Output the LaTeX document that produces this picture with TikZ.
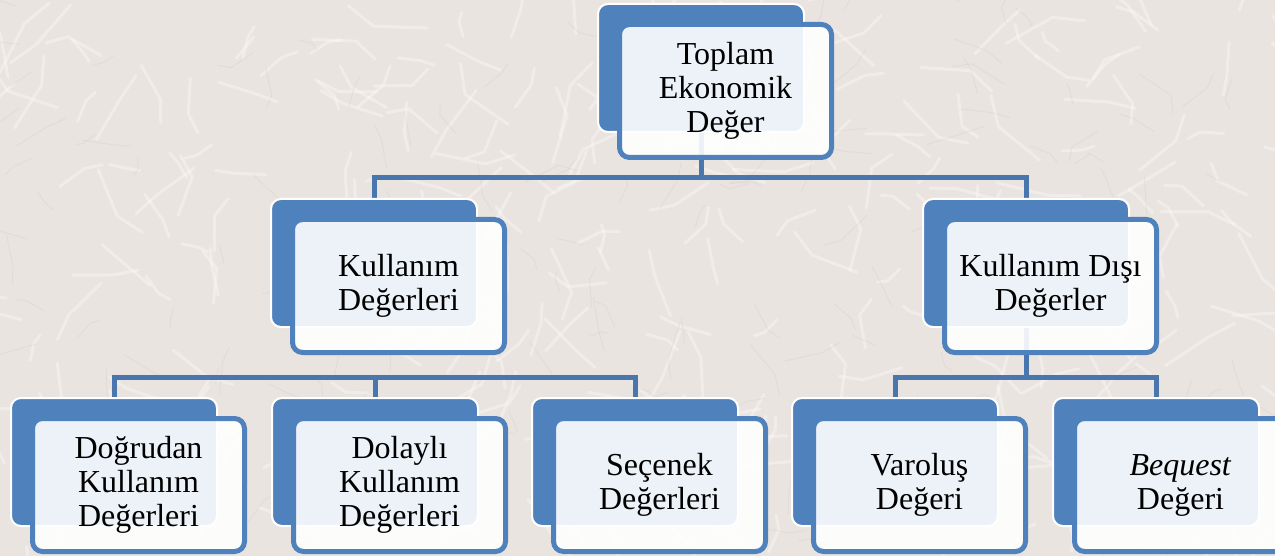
\documentclass[tikz,border=0pt]{standalone}
\usepackage{fontspec}
\setmainfont{Liberation Serif}
\definecolor{bgc}{HTML}{EAE4E0}
\definecolor{accb}{HTML}{4F81BD}
\definecolor{lnc}{HTML}{4A76AE}
\pgfdeclarelayer{bglayer}
\pgfdeclarelayer{connlayer}
\pgfsetlayers{bglayer,connlayer,main}
\tikzset{
  backbox/.style={draw=white, line width=2pt, fill=accb, rounded corners=10pt,
    minimum width=206pt, minimum height=128pt, anchor=north west,
    inner sep=0pt, outer sep=0pt},
  frontbox/.style={draw=accb, line width=5pt, fill=white, fill opacity=0.9,
    text opacity=1, rounded corners=10pt, minimum width=212pt,
    minimum height=133pt, anchor=north west, align=center,
    font=\fontsize{32}{34}\selectfont, inner sep=0pt, outer sep=0pt},
  conn/.style={draw=lnc, line width=5pt},
}
\newcommand\evbox[4]{%
  \node[backbox] (#1b) at (#2+1,#3+1) {};
  \node[frontbox] (#1f) at (#2+22.5,#3+21.5) {#4};
}
\begin{document}
\begin{tikzpicture}[x=1pt,y=-1pt]
\useasboundingbox (0,0) rectangle (1275,556);
\clip (0,0) rectangle (1275,556);
\begin{pgfonlayer}{bglayer}
  \fill[bgc] (0,0) rectangle (1275,556);
  \pgfmathsetseed{7}
  \foreach \i in {1,...,300}{
    \pgfmathsetmacro\xa{rnd*1275}
    \pgfmathsetmacro\ya{rnd*556}
    \pgfmathsetmacro\ang{rnd*360}
    \pgfmathsetmacro\len{15+rnd*40}
    \draw[white, line width=3pt, opacity=0.3, line cap=round, line join=round]
      (\xa,\ya) -- ++(\ang:\len) -- ++(\ang+50-rnd*100:\len*0.6);
  }
  \foreach \i in {1,...,160}{
    \pgfmathsetmacro\xa{rnd*1275}
    \pgfmathsetmacro\ya{rnd*556}
    \pgfmathsetmacro\ang{rnd*360}
    \pgfmathsetmacro\len{10+rnd*30}
    \draw[black!30, line width=1pt, opacity=0.15, line cap=round, line join=round]
      (\xa,\ya) -- ++(\ang:\len) -- ++(\ang+50-rnd*100:\len*0.5);
  }
\end{pgfonlayer}

\evbox{top}{597}{3}{Toplam\\Ekonomik\\Değer}
\evbox{ku}{270}{198}{Kullanım\\Değerleri}
\evbox{kd}{922}{198}{Kullanım Dışı\\Değerler}
\evbox{dk}{10}{397}{Doğrudan\\Kullanım\\Değerleri}
\evbox{dl}{271}{397}{Dolaylı\\Kullanım\\Değerleri}
\evbox{se}{531}{397}{Seçenek\\Değerleri}
\evbox{va}{791}{397}{Varoluş\\Değeri}
\evbox{be}{1052}{397}{\textit{Bequest}\\Değeri}

\coordinate (bus1) at (0,178);
\coordinate (bus2) at (0,377);
\begin{pgfonlayer}{connlayer}
  \draw[conn] (topb.center) -- (topb.center |- bus1);
  \draw[conn] (kub.center) |- (kdb.center |- bus1) -- (kdb.center);
  \draw[conn] (dkb.center) |- (seb.center |- bus2) -- (seb.center);
  \draw[conn] (dlb.center) -- (dlb.center |- bus2);
  \draw[conn] (vab.center) |- (beb.center |- bus2) -- (beb.center);
  \draw[conn] (kdb.center) -- (kdb.center |- bus2);
\end{pgfonlayer}
\end{tikzpicture}
\end{document}
